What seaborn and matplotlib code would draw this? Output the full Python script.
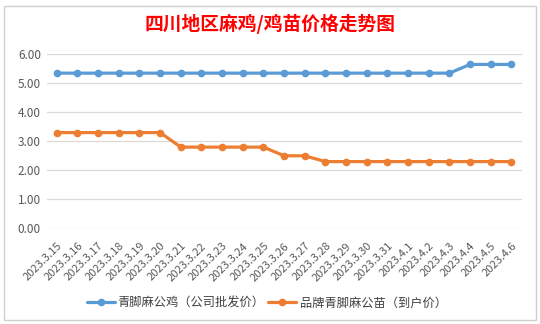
import matplotlib
matplotlib.use("Agg")
import matplotlib.pyplot as plt
import seaborn as sns
import pandas as pd
from matplotlib.patches import Rectangle

dates = ["2023.3.15", "2023.3.16", "2023.3.17", "2023.3.18", "2023.3.19", "2023.3.20",
         "2023.3.21", "2023.3.22", "2023.3.23", "2023.3.24", "2023.3.25", "2023.3.26",
         "2023.3.27", "2023.3.28", "2023.3.29", "2023.3.30", "2023.3.31", "2023.4.1",
         "2023.4.2", "2023.4.3", "2023.4.4", "2023.4.5", "2023.4.6"]
rooster = [5.35] * 20 + [5.65] * 3
chick = [3.3] * 6 + [2.8] * 5 + [2.5] * 2 + [2.3] * 10
series_names = ["青脚麻公鸡（公司批发价）", "品牌青脚麻公苗（到户价）"]
colors = ["#5B9BD5", "#ED7D31"]
yticks = [0, 1, 2, 3, 4, 5, 6]

df = pd.DataFrame({
    "date": dates * 2,
    "price": rooster + chick,
    "series": [series_names[0]] * len(dates) + [series_names[1]] * len(dates),
})

sns.set_theme(style="white")
plt.rcParams["font.family"] = ["Noto Sans CJK SC", "DejaVu Sans"]

fig = plt.figure(figsize=(5.4, 3.24), dpi=100)
ax = fig.add_axes([46.5 / 540, 1 - 228.3 / 324, (521.7 - 46.5) / 540, (228.3 - 54.3) / 324])

sns.lineplot(data=df, x="date", y="price", hue="series", palette=colors, sort=False,
             marker="o", markersize=5.5, markeredgewidth=0, linewidth=2.3, ax=ax)

ax.set_xlim(-0.5, len(dates) - 0.5)
ax.set_ylim(0, 6)
ax.set_yticks(yticks)
ax.set_yticklabels([f"{v:.2f}" for v in yticks], fontsize=8.5, color="#595959")
ax.yaxis.grid(True, color="#D9D9D9", linewidth=0.9)
ax.xaxis.grid(False)
for s in ax.spines.values():
    s.set_visible(False)
ax.tick_params(axis="y", length=0, pad=4)
ax.tick_params(axis="x", length=0, pad=9)
ax.set_xticks(range(len(dates)))
ax.set_xticklabels(dates, rotation=45, ha="right", rotation_mode="anchor",
                   fontsize=8, color="#595959")
ax.set_xlabel("")
ax.set_ylabel("")

leg = ax.legend(loc="center", bbox_to_anchor=(0.463, -0.43), ncol=2, frameon=False,
                fontsize=8.8, handlelength=2.3, columnspacing=0.3, handletextpad=0.25,
                labelcolor="#404040")
for h in leg.legend_handles:
    h.set_linewidth(2.3)

fig.text(0.5, 0.926, "四川地区麻鸡/鸡苗价格走势图", ha="center", va="center",
         fontsize=13.5, fontweight="bold", color="#FF0000")

fig.patches.append(Rectangle((4 / 540, 4 / 324), 532 / 540, 314 / 324, transform=fig.transFigure,
                             fill=False, edgecolor="#D0D0D0", linewidth=1))

fig.savefig("out.png", dpi=100)
